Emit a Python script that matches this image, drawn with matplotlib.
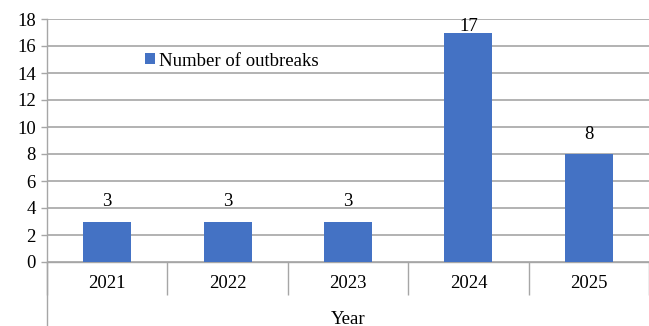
import matplotlib
matplotlib.use("Agg")
import matplotlib.pyplot as plt
from matplotlib.lines import Line2D

years = ["2021", "2022", "2023", "2024", "2025"]
outbreaks = [3, 3, 3, 17, 8]
yticks = [0, 2, 4, 6, 8, 10, 12, 14, 16, 18]

plt.rcParams['font.family'] = ['Liberation Serif', 'DejaVu Serif']
FS = 13.5
W, H = 649, 326
fig = plt.figure(figsize=(W/100, H/100), dpi=100)
left, right, top, bottom = 47, 649, 19, 262
ax = fig.add_axes([left/W, (H-bottom)/H, (right-left)/W, (bottom-top)/H])

grid_c = "#a6a6a6"
x = list(range(len(years)))
ax.bar(x, outbreaks, width=0.4, color="#4472C4", zorder=3, label="Number of outbreaks")

ymax = 18
px_per_unit = (bottom - top) / ymax
for xi, v in zip(x, outbreaks):
    ybase = min(v + 15 / px_per_unit, ymax - 12 / px_per_unit)
    ax.text(xi, ybase, str(v), ha="center", va="baseline", fontsize=FS, zorder=4)

ax.set_xlim(-0.5, len(years) - 0.5)
ax.set_ylim(0, ymax)
ax.set_yticks(yticks)
ax.set_yticklabels([str(t) for t in yticks], fontsize=FS)
ax.yaxis.grid(True, color=grid_c, linewidth=1.2, zorder=0)
ax.set_axisbelow(True)
ax.tick_params(axis='y', length=4, color=grid_c, width=1, pad=4)
ax.set_xticks(x)
ax.set_xticklabels(years, fontsize=FS)
ax.tick_params(axis='x', which='major', length=0, pad=9)
ax.set_xticks([i - 0.5 for i in range(len(years) + 1)], minor=True)
ax.tick_params(axis='x', which='minor', length=24, color=grid_c, width=1)

for s in ["top", "right"]:
    ax.spines[s].set_visible(False)
ax.spines["left"].set_color(grid_c)
ax.spines["bottom"].set_color(grid_c)
ax.spines["left"].set_linewidth(1)
ax.spines["bottom"].set_linewidth(1)

# left axis line continues to bottom of figure
fig.add_artist(Line2D([left/W, left/W], [0, (H-bottom)/H], color=grid_c, linewidth=1))

fig.text(((left + right) / 2) / W, (H - 319) / H, "Year", ha="center", va="center", fontsize=FS)

leg = ax.legend(loc="center left", bbox_to_anchor=(145/W, (H-61)/H),
                bbox_transform=fig.transFigure, frameon=False, fontsize=FS,
                handlelength=0.53, handleheight=0.53, handletextpad=0.2,
                borderpad=0, borderaxespad=0)

fig.savefig("out.png", dpi=100)
